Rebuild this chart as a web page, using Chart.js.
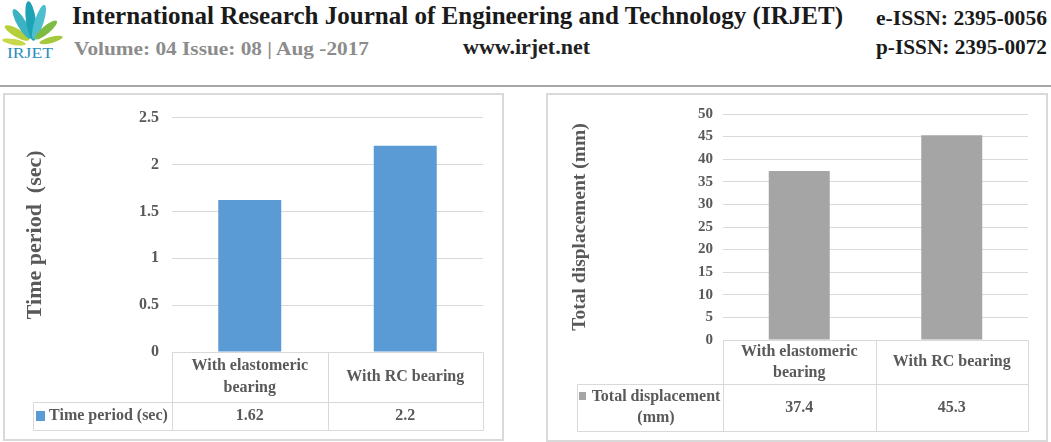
<!DOCTYPE html>
<html>
<head>
<meta charset="utf-8">
<script src="https://cdn.jsdelivr.net/npm/chart.js@4.4.0/dist/chart.umd.min.js"></script>
<style>
  body { margin: 0; background: #fff; width: 1051px; height: 442px; overflow: hidden; position: relative; font-family: "Liberation Serif", serif; }
  #head { position: absolute; left: 0; top: 0; }
  .box { position: absolute; border: 2px solid #d9d9d9; box-sizing: border-box; }
  #box1 { left: 3px; top: 93px; width: 501px; height: 348px; }
  #box2 { left: 546px; top: 93px; width: 502px; height: 349px; }
  canvas { position: absolute; }
  #c1 { left: 5px; top: 95px; }
  #c2 { left: 548px; top: 95px; }
</style>
</head>
<body>
<svg id="head" width="1051" height="92">
  <g>
    <ellipse cx="14" cy="42" rx="3" ry="12" fill="#c8d84a" transform="rotate(-80 14 42)"/>
    <ellipse cx="17" cy="33" rx="4" ry="14" fill="#b5cf3a" transform="rotate(-60 17 33)"/>
    <ellipse cx="22" cy="24" rx="4.5" ry="17" fill="#3bb3c3" transform="rotate(-30 22 24)"/>
    <ellipse cx="31" cy="21" rx="5" ry="20" fill="#1ea3b5" transform="rotate(-8 31 21)"/>
    <ellipse cx="39" cy="22" rx="4.5" ry="18" fill="#4fbfcf" transform="rotate(18 39 22)"/>
    <ellipse cx="46" cy="30" rx="4" ry="14" fill="#7dbb42" transform="rotate(50 46 30)"/>
    <ellipse cx="51" cy="40" rx="3" ry="12" fill="#a6c83c" transform="rotate(75 51 40)"/>
  </g>
  <text x="7" y="58" font-size="15" fill="#2b8dbd" textLength="46" lengthAdjust="spacingAndGlyphs">IRJET</text>
  <g font-weight="bold" font-family="Liberation Serif">
    <text x="72" y="24" font-size="26" fill="#1a1a1a" textLength="771" lengthAdjust="spacingAndGlyphs">International Research Journal of Engineering and Technology (IRJET)</text>
    <text x="876" y="25" font-size="20" fill="#1a1a1a" textLength="171" lengthAdjust="spacingAndGlyphs">e-ISSN: 2395-0056</text>
    <text x="74" y="55" font-size="18" fill="#8c8c8c" textLength="295" lengthAdjust="spacingAndGlyphs">Volume: 04 Issue: 08 | Aug -2017</text>
    <text x="463" y="54" font-size="20" fill="#222" textLength="127" lengthAdjust="spacingAndGlyphs">www.irjet.net</text>
    <text x="876" y="54" font-size="20" fill="#1a1a1a" textLength="171" lengthAdjust="spacingAndGlyphs">p-ISSN: 2395-0072</text>
  </g>
  <line x1="0" y1="86" x2="1051" y2="86" stroke="#a6a6a6" stroke-width="2"/>
</svg>
<div class="box" id="box1"></div>
<div class="box" id="box2"></div>
<canvas id="c1" width="497" height="344"></canvas>
<canvas id="c2" width="498" height="345"></canvas>
<script>
// data
var categories = [["With elastomeric", "bearing"], ["With RC bearing"]];
var timePeriod = [1.62, 2.2];
var displacement = [37.4, 45.3];
var timeLabel = ["Time period (sec)"];
var dispLabel = ["Total displacement", "(mm)"];
var timeTicks = { min: 0, max: 2.5, step: 0.5 };
var dispTicks = { min: 0, max: 50, step: 5 };

var textColor = "#595959";
var gridColor = "#d9d9d9";

// draws the data table under the plot, using the x scale columns
var dataTable = {
  id: 'dataTable',
  afterDraw: function(chart, args, opts) {
    var ctx = chart.ctx;
    var a = chart.chartArea;
    var x = chart.scales.x;
    var n = chart.data.labels.length;
    var colW = (a.right - a.left) / n;
    var y0 = a.bottom, y1 = y0 + opts.catRow, y2 = y1 + opts.dataRow;
    var px = function(v) { return Math.round(v) + 0.5; };
    function line(xa, ya, xb, yb) {
      ctx.beginPath();
      ctx.moveTo(px(xa), px(ya));
      ctx.lineTo(px(xb), px(yb));
      ctx.stroke();
    }
    ctx.save();
    ctx.strokeStyle = gridColor;
    ctx.lineWidth = 1;
    line(a.left, y0, a.right, y0);
    line(opts.legendLeft, y1, a.right, y1);
    line(opts.legendLeft, y2, a.right, y2);
    for (var i = 0; i <= n; i++) {
      line(a.left + i * colW, y0, a.left + i * colW, y2);
    }
    line(opts.legendLeft, y1, opts.legendLeft, y2);

    ctx.fillStyle = textColor;
    ctx.textAlign = 'center';
    ctx.textBaseline = 'middle';
    ctx.font = opts.font;
    chart.data.labels.forEach(function(lab, i) {
      var cx = x.getPixelForValue(i);
      var lines = [].concat(lab);
      var start = (y0 + y1) / 2 - (lines.length - 1) * opts.lineHeight / 2;
      lines.forEach(function(t, k) { ctx.fillText(t, cx, start + k * opts.lineHeight); });
    });
    var ds = chart.data.datasets[0];
    ds.data.forEach(function(v, i) {
      ctx.fillText(String(v), x.getPixelForValue(i), (y1 + y2) / 2);
    });

    // legend cell
    var lines = [].concat(ds.label);
    var tc = (opts.legendLeft + 16 + a.left - 4) / 2;
    var start = (y1 + y2) / 2 - (lines.length - 1) * opts.lineHeight / 2;
    ctx.font = opts.legendFont;
    var w0 = ctx.measureText(lines[0]).width;
    lines.forEach(function(t, k) { ctx.fillText(t, tc, start + k * opts.lineHeight); });
    ctx.fillStyle = ds.backgroundColor;
    ctx.fillRect(Math.round(tc - w0 / 2 - 13), Math.round(start - 5), opts.keySize, opts.keySize + 1);
    ctx.restore();
  }
};

function makeChart(id, values, label, color, ticks, title, cfg) {
  return new Chart(document.getElementById(id), {
    type: 'bar',
    data: {
      labels: categories,
      datasets: [{
        label: label,
        data: values,
        backgroundColor: color,
        barPercentage: cfg.barPct,
        categoryPercentage: 1
      }]
    },
    options: {
      responsive: false,
      animation: false,
      layout: { padding: cfg.padding },
      plugins: {
        legend: { display: false },
        tooltip: { enabled: false },
        dataTable: cfg.table
      },
      scales: {
        x: { display: false },
        y: {
          min: ticks.min,
          max: ticks.max,
          afterFit: function(scale) { scale.width = cfg.yWidth; },
          ticks: {
            stepSize: ticks.step,
            padding: cfg.tickPad,
            color: textColor,
            font: { family: "Liberation Serif", weight: 'bold', size: cfg.tickSize },
            callback: function(v) { return String(Number(v.toFixed(2))); }
          },
          grid: { color: gridColor, drawTicks: false },
          border: { display: false },
          title: {
            display: true,
            text: title,
            color: textColor,
            padding: { top: cfg.titlePad, bottom: 0 },
            font: { family: "Liberation Serif", weight: 'bold', size: cfg.titleSize }
          }
        }
      }
    },
    plugins: [dataTable]
  });
}

makeChart('c1', timePeriod, timeLabel, '#5b9bd5', timeTicks, 'Time period  (sec)', {
  barPct: 0.405,
  padding: { left: 0, top: 20, right: 19, bottom: 87 },
  yWidth: 167,
  tickPad: 13,
  tickSize: 16,
  titleSize: 22,
  titlePad: 17,
  table: {
    catRow: 50, dataRow: 28, legendLeft: 28, lineHeight: 22, keySize: 9,
    font: "bold 16px 'Liberation Serif'", legendFont: "bold 16px 'Liberation Serif'"
  }
});

makeChart('c2', displacement, dispLabel, '#a5a5a5', dispTicks, 'Total displacement (mm)', {
  barPct: 0.4,
  padding: { left: 0, top: 18, right: 18, bottom: 100 },
  yWidth: 175,
  tickPad: 10,
  tickSize: 15,
  titleSize: 19.5,
  titlePad: 20,
  table: {
    catRow: 44, dataRow: 47, legendLeft: 29, lineHeight: 21, keySize: 7,
    font: "bold 16px 'Liberation Serif'", legendFont: "bold 16px 'Liberation Serif'"
  }
});
</script>
</body>
</html>
